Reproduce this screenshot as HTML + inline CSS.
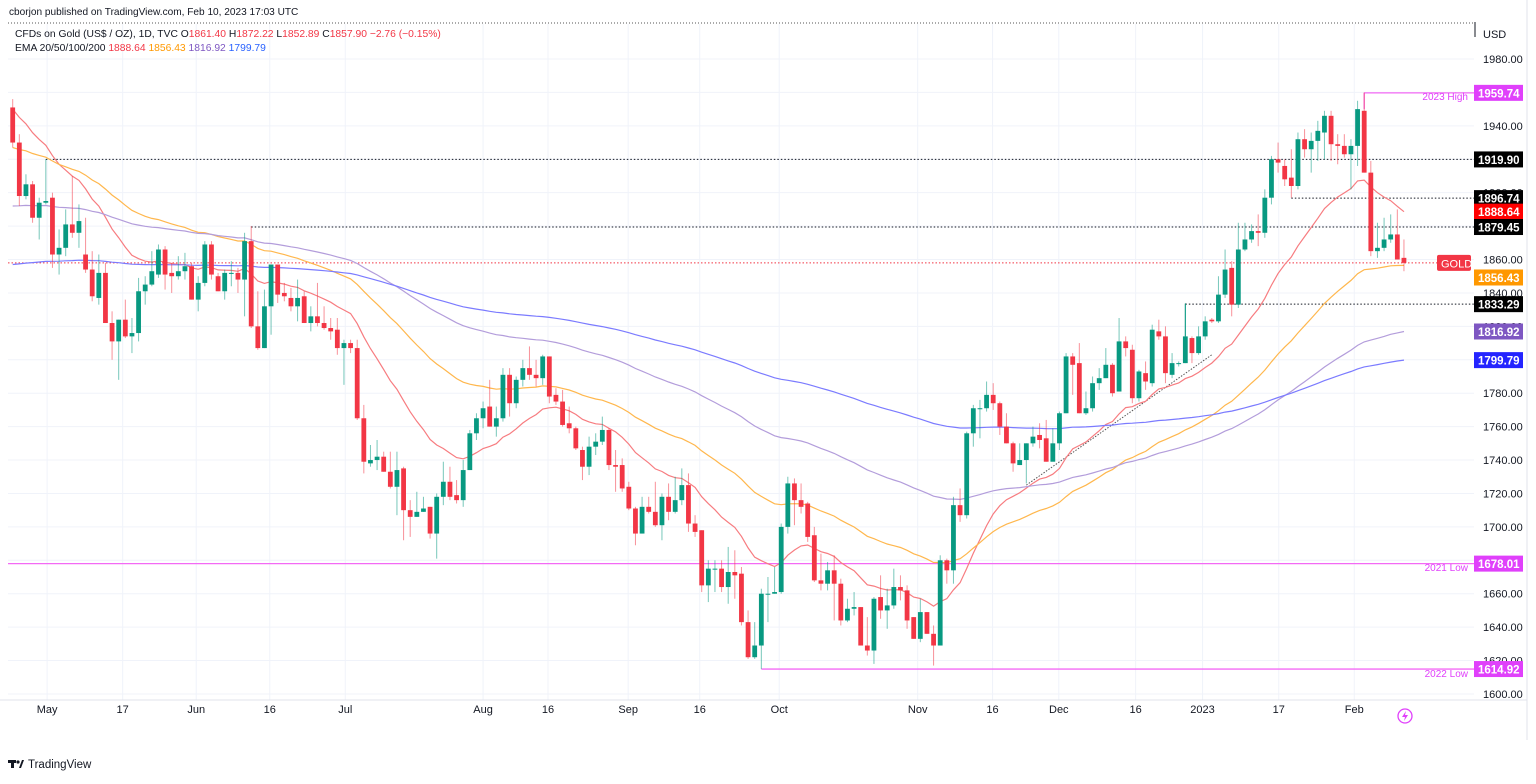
<!DOCTYPE html>
<html><head><meta charset="utf-8">
<style>
html,body{margin:0;padding:0;background:#fff;}
body{width:1536px;height:779px;overflow:hidden;font-family:"Liberation Sans",sans-serif;}
svg text{font-family:"Liberation Sans",sans-serif;}
</style></head>
<body>
<svg id="chart" width="1536" height="779" xmlns="http://www.w3.org/2000/svg">
<rect x="0" y="0" width="1536" height="779" fill="#fff"/>
<g id="grid"></g>
<g id="hlines"></g>
<g id="emas"></g>
<g id="candles"></g>
<g id="yaxis"></g>
<g id="xaxis"></g>
<text x="9" y="15" font-size="10.1" fill="#131722">cborjon published on TradingView.com, Feb 10, 2023 17:03 UTC</text>
<line x1="8" y1="23" x2="1474" y2="23" stroke="#555" stroke-dasharray="1,2" stroke-width="1"/>
<line x1="1475" y1="22" x2="1475" y2="37" stroke="#131722" stroke-width="1"/>
<text x="15" y="37" font-size="10.3" fill="#131722">CFDs on Gold (US$ / OZ), 1D, TVC <tspan fill="#131722">O</tspan><tspan fill="#f23645">1861.40</tspan> <tspan fill="#131722">H</tspan><tspan fill="#f23645">1872.22</tspan> <tspan fill="#131722">L</tspan><tspan fill="#f23645">1852.89</tspan> <tspan fill="#131722">C</tspan><tspan fill="#f23645">1857.90</tspan> <tspan fill="#f23645">−2.76 (−0.15%)</tspan></text>
<text x="15" y="51" font-size="10.3" fill="#131722">EMA 20/50/100/200 <tspan fill="#f23645">1888.64</tspan> <tspan fill="#ff9800">1856.43</tspan> <tspan fill="#7e57c2">1816.92</tspan> <tspan fill="#2962ff">1799.79</tspan></text>
<line x1="1527" y1="0" x2="1527" y2="740" stroke="#e0e3eb"/>
<text x="1483" y="38" font-size="11" fill="#131722">USD</text>
<g>
<rect x="8" y="760" width="8" height="3" fill="#131722"/><rect x="11" y="760" width="3" height="8" fill="#131722"/><circle cx="18" cy="762" r="1.6" fill="#131722"/><path d="M19 768 L22 760 L24 760 L21 768Z" fill="#131722"/>
<text x="28" y="768" font-size="11.5" fill="#131722">TradingView</text></g>
<g><circle cx="1405" cy="716" r="7" fill="none" stroke="#e040fb" stroke-width="1.3"/><path d="M1406 711 L1402 717 L1405 717 L1404 721 L1408 715 L1405 715Z" fill="#e040fb"/></g>
</svg>
<script>
const opens=[1951,1930,1898,1905,1885,1894,1897,1863,1867,1881,1876,1863,1854,1837,1852,1822,1811,1824,1814,1816,1841,1845,1851,1866,1852,1850,1853,1856,1836,1846,1869,1850,1841,1852,1852,1848,1871,1820,1807,1832,1857,1840,1837,1832,1838,1822,1826,1822,1819,1818,1807,1810,1807,1765,1738,1740,1742,1733,1724,1735,1710,1706,1709,1712,1696,1718,1727,1719,1716,1734,1756,1765,1772,1760,1765,1791,1774,1788,1795,1791,1789,1802,1779,1775,1762,1759,1746,1736,1748,1751,1758,1737,1737,1724,1711,1696,1712,1709,1701,1718,1709,1716,1725,1702,1698,1665,1675,1675,1664,1673,1672,1643,1622,1629,1660,1660,1661,1700,1726,1716,1714,1695,1668,1666,1674,1666,1644,1651,1652,1629,1626,1658,1650,1653,1664,1662,1646,1633,1649,1636,1629,1680,1674,1713,1707,1756,1771,1771,1779,1774,1760,1750,1737,1740,1750,1755,1753,1739,1750,1768,1802,1798,1768,1771,1786,1789,1797,1781,1811,1806,1777,1792,1786,1817,1814,1791,1798,1798,1813,1804,1814,1824,1823,1839,1855,1833,1866,1872,1877,1876,1897,1920,1916,1909,1904,1932,1926,1931,1936,1946,1929,1928,1923,1928,1949,1912,1865,1867,1872,1875,1861];
const highs=[1956,1935,1911,1907,1897,1920,1900,1878,1890,1910,1893,1885,1865,1863,1858,1829,1824,1836,1825,1849,1850,1865,1869,1868,1858,1862,1864,1858,1850,1871,1871,1852,1854,1859,1855,1876,1880,1841,1842,1857,1857,1846,1843,1848,1841,1832,1846,1832,1825,1825,1812,1812,1812,1773,1749,1752,1745,1745,1745,1736,1716,1721,1718,1712,1720,1739,1736,1728,1740,1758,1768,1775,1788,1772,1795,1795,1790,1800,1808,1800,1803,1802,1783,1782,1772,1760,1748,1754,1756,1766,1759,1746,1741,1727,1712,1718,1718,1727,1720,1726,1730,1735,1732,1707,1698,1680,1680,1680,1688,1686,1676,1650,1643,1663,1670,1676,1702,1730,1729,1726,1715,1700,1684,1679,1683,1669,1657,1661,1652,1646,1658,1671,1663,1675,1671,1665,1646,1657,1649,1641,1683,1681,1718,1723,1757,1773,1776,1787,1786,1775,1768,1751,1750,1750,1760,1762,1764,1759,1769,1804,1804,1810,1781,1790,1795,1807,1798,1825,1814,1809,1794,1799,1821,1824,1820,1804,1799,1834,1814,1820,1826,1825,1850,1866,1859,1882,1882,1881,1887,1902,1922,1930,1920,1926,1936,1938,1936,1943,1949,1949,1935,1935,1932,1955,1960,1919,1882,1885,1887,1890,1872];
const lows=[1927,1892,1896,1882,1872,1893,1855,1851,1862,1873,1867,1852,1835,1833,1822,1800,1788,1813,1804,1811,1833,1844,1849,1842,1840,1848,1848,1836,1829,1844,1848,1841,1836,1844,1840,1826,1819,1806,1807,1815,1834,1835,1829,1823,1822,1817,1820,1818,1812,1803,1785,1804,1764,1732,1736,1734,1733,1723,1707,1692,1694,1706,1709,1693,1681,1713,1716,1714,1712,1734,1752,1759,1760,1754,1763,1766,1771,1784,1788,1784,1785,1774,1773,1760,1756,1746,1728,1731,1743,1749,1734,1721,1721,1710,1689,1696,1708,1700,1692,1704,1708,1713,1697,1694,1661,1655,1661,1661,1654,1657,1641,1621,1621,1615,1643,1660,1660,1696,1701,1708,1691,1667,1662,1662,1644,1641,1643,1647,1629,1623,1618,1645,1639,1651,1656,1639,1633,1631,1636,1617,1629,1666,1666,1703,1705,1748,1753,1769,1770,1755,1750,1733,1737,1726,1748,1747,1739,1740,1746,1768,1779,1768,1767,1769,1782,1789,1778,1781,1802,1774,1775,1782,1784,1812,1786,1789,1796,1798,1798,1803,1812,1822,1822,1837,1826,1831,1865,1870,1868,1873,1893,1912,1904,1897,1902,1921,1912,1919,1920,1919,1917,1921,1902,1916,1912,1862,1861,1865,1870,1860,1853];
const closes=[1930,1898,1905,1885,1894,1895,1863,1867,1881,1876,1883,1854,1838,1852,1822,1811,1824,1814,1816,1841,1845,1853,1866,1851,1850,1853,1856,1836,1846,1869,1851,1841,1852,1852,1848,1871,1820,1807,1832,1857,1839,1838,1832,1837,1822,1826,1822,1819,1817,1807,1810,1807,1765,1739,1740,1742,1733,1724,1734,1710,1706,1709,1711,1696,1718,1727,1718,1716,1734,1756,1765,1771,1760,1765,1791,1774,1788,1795,1791,1789,1802,1778,1775,1761,1759,1747,1736,1748,1751,1758,1737,1736,1723,1711,1696,1712,1709,1701,1718,1709,1716,1725,1702,1697,1665,1675,1675,1664,1673,1671,1643,1622,1629,1660,1660,1661,1700,1726,1716,1712,1694,1668,1666,1674,1666,1644,1651,1652,1629,1626,1657,1650,1653,1664,1662,1644,1633,1649,1636,1629,1680,1674,1713,1707,1756,1771,1771,1779,1774,1760,1750,1738,1740,1750,1754,1752,1739,1750,1768,1802,1797,1768,1771,1786,1789,1797,1780,1811,1807,1777,1793,1787,1818,1814,1792,1798,1798,1814,1804,1814,1823,1823,1839,1854,1833,1866,1872,1877,1876,1897,1920,1918,1908,1904,1932,1926,1931,1937,1946,1929,1928,1923,1928,1950,1912,1865,1867,1872,1875,1860,1858];
const emaPeriods=[20,50,100,200];
const emaSeeds=[1950,1927,1892,1857];
const yTicks=[1600,1620,1640,1660,1680,1700,1720,1740,1760,1780,1800,1820,1840,1860,1880,1900,1920,1940,1960,1980];
const xTickLabels=["May","17","Jun","16","Jul","Aug","16","Sep","16","Oct","Nov","16","Dec","16","2023","17","Feb"];
const xTickIndex=[5.2,16.6,27.7,38.8,50.2,71,80.8,92.9,103.7,115.7,136.6,147.9,157.9,169.5,179.6,191.1,202.5];
const levelValues=[1919.90,1896.74,1879.45,1833.29];
const levelStartIndex=[5,193,36,177];
const NS="http://www.w3.org/2000/svg";
const X0=12.7, DX=6.625, PL=8, PR=1474;
function x(i){return X0+i*DX;}
function y(v){return 59+(1980-v)*1.671;}
function mk(tag,attrs,parent){const e=document.createElementNS(NS,tag);for(const k in attrs)e.setAttribute(k,attrs[k]);parent.appendChild(e);return e;}
const grid=document.getElementById('grid');
yTicks.forEach(v=>{mk('line',{x1:PL,x2:PR,y1:y(v),y2:y(v),stroke:'#f0f3fa'},grid);});
xTickIndex.forEach(i=>{mk('line',{x1:x(i),x2:x(i),y1:24,y2:700,stroke:'#f0f3fa'},grid);});
mk('line',{x1:0,x2:1527,y1:700,y2:700,stroke:'#e0e3eb'},grid);
const hl=document.getElementById('hlines');
levelValues.forEach((v,k)=>{const l=mk('line',{x1:x(levelStartIndex[k]),x2:PR,y1:y(v),y2:y(v),stroke:'#131722','stroke-dasharray':'1.5,2'},hl);

});
mk('line',{x1:x(177),x2:x(177),y1:y(1833.29),y2:y(1814),stroke:'#089981'},hl);
const lastClose=closes[closes.length-1];
mk('line',{x1:PL,x2:1437,y1:y(lastClose),y2:y(lastClose),stroke:'#f23645','stroke-dasharray':'1.5,2'},hl);
mk('line',{x1:PL,x2:PR,y1:y(1678.01),y2:y(1678.01),stroke:'#f36af5','stroke-width':1.3},hl);
mk('line',{x1:x(113),x2:PR,y1:y(1614.92),y2:y(1614.92),stroke:'#f36af5','stroke-width':1.3},hl);
mk('line',{x1:x(204),x2:PR,y1:y(1959.74),y2:y(1959.74),stroke:'#f36af5','stroke-width':1.3},hl);
mk('line',{x1:x(204),x2:x(204),y1:y(1959.74),y2:y(1950),stroke:'#f36af5','stroke-width':1.3},hl);
const tl=mk('line',{x1:x(153),y1:y(1725),x2:x(181),y2:y(1803),stroke:'#555','stroke-dasharray':'1.5,1.5'},hl);


[["2023 High",1468,100],["2021 Low",1468,571],["2022 Low",1468,677]].forEach(t=>{const e=mk('text',{x:t[1],y:t[2],'font-size':10,fill:'#e040fb','text-anchor':'end'},hl);e.textContent=t[0];

});
const emaColors=['#f77c80','#ffb74d','#b39ddb','#7b7bff'];
const emaG=document.getElementById('emas');
emaPeriods.forEach((p,k)=>{const kk=2/(p+1);let e=emaSeeds[k];let pts=[];
closes.forEach((c,i)=>{if(i>0)e=c*kk+e*(1-kk);pts.push(x(i).toFixed(1)+','+y(e).toFixed(1));});
const pl=mk('polyline',{points:pts.join(' '),fill:'none',stroke:emaColors[k],'stroke-width':1.2},emaG);

});
const cg=document.getElementById('candles');
closes.forEach((c,i)=>{const o=opens[i];const up=c>=o;const col=up?'#089981':'#f23645';const g=mk('g',{},cg);


mk('line',{x1:x(i),x2:x(i),y1:y(highs[i]),y2:y(lows[i]),stroke:col,'stroke-opacity':0.55},g);
const t=y(Math.max(o,c)),b=y(Math.min(o,c));
mk('rect',{x:x(i)-2.4,y:t,width:4.8,height:Math.max(1,b-t),fill:col},g);});
const ya=document.getElementById('yaxis');
yTicks.forEach(v=>{const e=mk('text',{x:1483,y:y(v)+4,'font-size':11,fill:'#131722'},ya);e.textContent=v.toFixed(2);

});
const boxes=[[1959.74,'#e040fb','1959.74',0],[1919.90,'#000','1919.90',0],[1896.74,'#000','1896.74',0],[1888.64,'#ff0000','1888.64',0],[1879.45,'#000','1879.45',0],[1856.43,'#ff9800','1856.43',12],[1833.29,'#000','1833.29',0],[1816.92,'#7e57c2','1816.92',0],[1799.79,'#2424ff','1799.79',0],[1678.01,'#e040fb','1678.01',0],[1614.92,'#e040fb','1614.92',0]];
boxes.forEach(bx=>{const yy=y(bx[0])+bx[3];const g=mk('g',{},ya);


mk('rect',{x:1474,y:yy-8,width:49,height:16,fill:bx[1]},g);
const t=mk('text',{x:1478,y:yy+4.5,'font-size':11.5,fill:'#fff','font-weight':'bold'},g);t.textContent=bx[2];});
const gg=mk('g',{},ya);


mk('rect',{x:1437,y:y(lastClose)-8,width:34,height:16,rx:2,fill:'#f23645'},gg);
const gt=mk('text',{x:1441,y:y(lastClose)+4.5,'font-size':11,fill:'#fff'},gg);gt.textContent='GOLD';
const xa=document.getElementById('xaxis');
xTickLabels.forEach((l,k)=>{const e=mk('text',{x:x(xTickIndex[k]),y:713,'font-size':11,fill:'#131722','text-anchor':'middle'},xa);e.textContent=l;

});
</script>
</body></html>
